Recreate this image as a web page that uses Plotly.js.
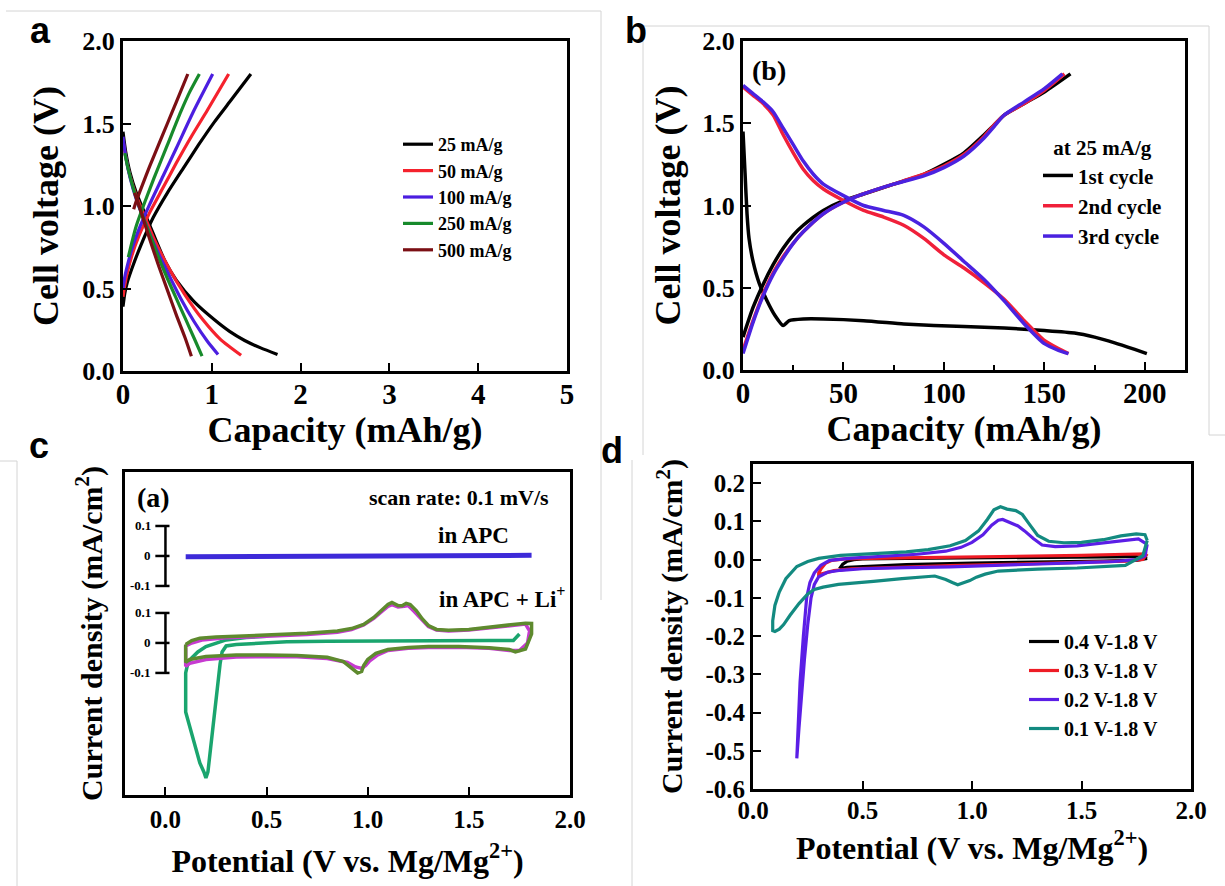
<!DOCTYPE html>
<html><head><meta charset="utf-8">
<script src="https://cdn.plot.ly/plotly-3.0.1.min.js"></script>
<style>html,body{margin:0;padding:0;background:#fff}#chart{width:1225px;height:886px}</style>
</head><body><div id="chart"></div>
<script>
// ---------- Panel a: galvanostatic curves at different rates ----------
const rateLabels = ['25 mA/g', '50 mA/g', '100 mA/g', '250 mA/g', '500 mA/g'];
const aChargeCap = [
  [0, 0.02, 0.05, 0.12, 0.2, 0.34, 0.5, 0.68, 0.85, 1.03, 1.2, 1.44],
  [0, 0.02, 0.05, 0.1, 0.18, 0.3, 0.45, 0.6, 0.78, 0.95, 1.19],
  [0, 0.02, 0.05, 0.1, 0.18, 0.3, 0.45, 0.6, 0.8, 1.01],
  [0.06, 0.1, 0.15, 0.25, 0.35, 0.5, 0.65, 0.75, 0.86],
  [0.12, 0.15, 0.22, 0.3, 0.4, 0.5, 0.6, 0.73]
];
const aChargeV = [
  [0.39, 0.47, 0.54, 0.65, 0.76, 0.93, 1.08, 1.23, 1.37, 1.51, 1.63, 1.8],
  [0.45, 0.52, 0.6, 0.7, 0.82, 0.96, 1.11, 1.26, 1.43, 1.58, 1.8],
  [0.5, 0.57, 0.64, 0.74, 0.86, 1.01, 1.18, 1.35, 1.58, 1.8],
  [0.69, 0.78, 0.88, 1.03, 1.17, 1.37, 1.57, 1.69, 1.8],
  [0.98, 1.03, 1.13, 1.24, 1.37, 1.5, 1.63, 1.8]
];
const aDischargeCap = [
  [0, 0.03, 0.08, 0.15, 0.25, 0.35, 0.47, 0.6, 0.8, 1.03, 1.2, 1.37, 1.55, 1.74],
  [0, 0.03, 0.08, 0.15, 0.25, 0.35, 0.5, 0.7, 0.9, 1.1, 1.33],
  [0, 0.03, 0.08, 0.15, 0.25, 0.35, 0.5, 0.65, 0.8, 0.95, 1.07],
  [0.02, 0.06, 0.12, 0.2, 0.3, 0.4, 0.5, 0.6, 0.7, 0.8, 0.89],
  [0.13, 0.2, 0.3, 0.4, 0.5, 0.6, 0.7, 0.77]
];
const aDischargeV = [
  [1.45, 1.33, 1.2, 1.08, 0.95, 0.82, 0.67, 0.55, 0.42, 0.31, 0.24, 0.185, 0.14, 0.1],
  [1.4, 1.3, 1.18, 1.06, 0.93, 0.8, 0.64, 0.46, 0.31, 0.19, 0.095],
  [1.42, 1.3, 1.17, 1.04, 0.9, 0.77, 0.6, 0.44, 0.3, 0.18, 0.1],
  [1.32, 1.22, 1.1, 0.97, 0.83, 0.69, 0.56, 0.44, 0.32, 0.2, 0.09],
  [1.08, 0.97, 0.8, 0.64, 0.49, 0.34, 0.2, 0.09]
];
const rateColors = ['#000000', '#f5222d', '#4b1ee0', '#178a2b', '#7b0f14'];

// ---------- Panel b: first three cycles at 25 mA/g ----------
const cycleLabels = ['1st cycle', '2nd cycle', '3rd cycle'];
const bChargeCap = [
  [0, 5, 10, 15, 20, 25, 30, 40, 50, 60, 75, 90, 100, 110, 120, 125, 130, 140, 150, 163],
  [0, 5, 10, 15, 20, 25, 30, 40, 50, 60, 75, 90, 100, 110, 120, 125, 130, 140, 150, 160],
  [0, 5, 10, 15, 20, 25, 30, 40, 50, 60, 75, 90, 100, 110, 120, 125, 130, 140, 150, 159]
];
const bChargeV = [
  [0.2, 0.38, 0.52, 0.64, 0.74, 0.82, 0.88, 0.97, 1.03, 1.07, 1.13, 1.19, 1.25, 1.32, 1.43, 1.49, 1.55, 1.62, 1.69, 1.8],
  [0.12, 0.3, 0.46, 0.59, 0.69, 0.77, 0.84, 0.95, 1.02, 1.07, 1.13, 1.19, 1.24, 1.31, 1.42, 1.49, 1.55, 1.62, 1.7, 1.8],
  [0.1, 0.29, 0.45, 0.58, 0.68, 0.77, 0.84, 0.95, 1.02, 1.07, 1.13, 1.18, 1.23, 1.3, 1.41, 1.48, 1.55, 1.63, 1.71, 1.8]
];
const bDischargeCap = [
  [0, 1, 2, 3, 5, 8, 12, 16, 20, 23, 30, 40, 60, 80, 95, 110, 130, 150, 165, 175, 185, 195, 201],
  [0, 5, 10, 15, 20, 25, 30, 35, 40, 50, 60, 70, 80, 90, 100, 110, 120, 130, 140, 150, 157, 162],
  [0, 5, 10, 15, 20, 25, 30, 35, 40, 50, 60, 70, 80, 90, 100, 110, 120, 130, 140, 150, 157, 162]
];
const bDischargeV = [
  [1.45, 1.2, 0.95, 0.8, 0.66, 0.53, 0.42, 0.33, 0.27, 0.3, 0.31, 0.31, 0.3, 0.28, 0.27, 0.265, 0.255, 0.24, 0.225, 0.2, 0.165, 0.125, 0.1],
  [1.72, 1.67, 1.62, 1.55, 1.43, 1.32, 1.22, 1.15, 1.1, 1.03, 0.97, 0.93, 0.88, 0.8, 0.7, 0.62, 0.53, 0.43, 0.3, 0.18, 0.13, 0.1],
  [1.73, 1.68, 1.63, 1.57, 1.47, 1.37, 1.27, 1.19, 1.13, 1.06, 1.0, 0.97, 0.94, 0.87, 0.77, 0.66, 0.55, 0.42, 0.28, 0.16, 0.12, 0.1]
];
const cycleColors = ['#000000', '#f0203a', '#4a22e0'];

// ---------- Panel c: CV in APC and APC + Li+ ----------
const apcOffset = 0.29;   // vertical offset of the APC curve in the stacked plot
const apcPotential = [0.1, 0.4, 0.8, 1.2, 1.6, 1.81];
const apcCurrent = [-0.003, -0.002, -0.001, 0.0, 0.001, 0.002];
const liCycle1Potential = [1.75, 1.72, 1.6, 1.4, 1.2, 1.0, 0.8, 0.6, 0.45, 0.35, 0.3, 0.28, 0.27, 0.26, 0.25, 0.24, 0.23, 0.22, 0.21, 0.2, 0.19, 0.17, 0.15, 0.13, 0.11, 0.1, 0.1, 0.11, 0.13, 0.16, 0.2, 0.25, 0.3, 0.4, 0.5];
const liCycle1Current = [0.03, 0.008, 0.008, 0.008, 0.008, 0.007, 0.006, 0.004, 0.0, -0.005, -0.01, -0.03, -0.07, -0.13, -0.2, -0.27, -0.33, -0.39, -0.43, -0.45, -0.43, -0.4, -0.35, -0.3, -0.25, -0.23, -0.1, -0.07, -0.05, -0.03, -0.012, 0.0, 0.01, 0.018, 0.022];
const liCycle2Potential = [0.10, 0.13, 0.18, 0.3, 0.5, 0.7, 0.85, 0.92, 0.98, 1.03, 1.07, 1.1, 1.12, 1.15, 1.18, 1.2, 1.23, 1.27, 1.3, 1.34, 1.4, 1.5, 1.6, 1.7, 1.78, 1.8, 1.79, 1.75, 1.7, 1.6, 1.45, 1.3, 1.2, 1.1, 1.05, 1.01, 0.99, 0.97, 0.94, 0.9, 0.8, 0.65, 0.5, 0.35, 0.2, 0.12, 0.1, 0.1];
const liCycle2Current = [-0.01, 0.0, 0.01, 0.017, 0.022, 0.028, 0.036, 0.045, 0.06, 0.082, 0.105, 0.122, 0.128, 0.12, 0.122, 0.125, 0.105, 0.075, 0.055, 0.043, 0.04, 0.043, 0.05, 0.058, 0.063, 0.04, 0.0, -0.025, -0.025, -0.018, -0.014, -0.015, -0.018, -0.025, -0.04, -0.06, -0.075, -0.085, -0.08, -0.065, -0.052, -0.046, -0.045, -0.047, -0.055, -0.068, -0.078, -0.01];
const liCycle3Potential = [0.10, 0.13, 0.17, 0.25, 0.35, 0.5, 0.7, 0.85, 0.92, 0.98, 1.03, 1.07, 1.1, 1.12, 1.15, 1.17, 1.19, 1.21, 1.24, 1.27, 1.3, 1.34, 1.4, 1.5, 1.6, 1.7, 1.78, 1.81, 1.81, 1.78, 1.73, 1.7, 1.6, 1.45, 1.3, 1.2, 1.1, 1.04, 1.0, 0.98, 0.97, 0.95, 0.92, 0.88, 0.8, 0.65, 0.5, 0.35, 0.2, 0.12, 0.1, 0.1];
const liCycle3Current = [-0.005, 0.008, 0.016, 0.02, 0.022, 0.026, 0.032, 0.04, 0.048, 0.062, 0.085, 0.11, 0.128, 0.135, 0.125, 0.124, 0.132, 0.128, 0.108, 0.08, 0.058, 0.045, 0.042, 0.045, 0.052, 0.06, 0.066, 0.065, 0.03, -0.02, -0.03, -0.022, -0.016, -0.012, -0.012, -0.015, -0.022, -0.035, -0.055, -0.075, -0.095, -0.1, -0.085, -0.062, -0.048, -0.042, -0.04, -0.04, -0.045, -0.055, -0.065, -0.005];
const scaleBarValues = [-0.1, 0, 0.1];
const scaleBarLabels = ['-0.1', '0', '0.1'];

// ---------- Panel d: CV with different cut-off windows ----------
const windowLabels = ['0.4 V-1.8 V', '0.3 V-1.8 V', '0.2 V-1.8 V', '0.1 V-1.8 V'];
const dPotential = [
  [1.8, 1.75, 1.6, 1.3, 1.0, 0.7, 0.5, 0.43, 0.41, 0.4, 0.41, 0.43, 0.46, 0.5, 0.7, 1.0, 1.3, 1.6, 1.75, 1.8],
  [1.8, 1.78, 1.7, 1.5, 1.2, 0.9, 0.6, 0.45, 0.37, 0.33, 0.31, 0.3, 0.3, 0.31, 0.33, 0.36, 0.42, 0.6, 0.9, 1.2, 1.5, 1.7, 1.78, 1.8],
  [1.8, 1.79, 1.75, 1.65, 1.5, 1.3, 1.1, 0.9, 0.7, 0.5, 0.4, 0.34, 0.3, 0.28, 0.265, 0.25, 0.235, 0.22, 0.21, 0.2, 0.205, 0.215, 0.23, 0.245, 0.26, 0.28, 0.31, 0.35, 0.45, 0.6, 0.75, 0.88, 0.95, 1.0, 1.05, 1.09, 1.12, 1.14, 1.17, 1.21, 1.24, 1.28, 1.32, 1.38, 1.48, 1.6, 1.7, 1.76, 1.8],
  [1.8, 1.78, 1.7, 1.6, 1.48, 1.3, 1.12, 1.06, 1.02, 0.99, 0.96, 0.935, 0.91, 0.88, 0.83, 0.75, 0.68, 0.55, 0.45, 0.39, 0.32, 0.28, 0.25, 0.21, 0.17, 0.14, 0.12, 0.1, 0.09, 0.09, 0.1, 0.12, 0.15, 0.2, 0.25, 0.3, 0.4, 0.55, 0.7, 0.8, 0.9, 0.97, 1.03, 1.07, 1.1, 1.13, 1.16, 1.2, 1.23, 1.26, 1.3, 1.35, 1.42, 1.5, 1.6, 1.68, 1.75, 1.79, 1.8]
];
const dCurrent = [
  [0.003, -0.002, -0.004, -0.006, -0.009, -0.013, -0.017, -0.02, -0.022, -0.02, -0.012, -0.004, 0.0, 0.002, 0.003, 0.004, 0.005, 0.007, 0.008, 0.003],
  [0.015, 0.0, -0.004, -0.008, -0.012, -0.016, -0.02, -0.024, -0.029, -0.034, -0.038, -0.04, -0.035, -0.025, -0.01, -0.002, 0.002, 0.004, 0.006, 0.008, 0.011, 0.014, 0.016, 0.015],
  [0.04, 0.01, 0.0, -0.005, -0.008, -0.012, -0.016, -0.019, -0.021, -0.024, -0.028, -0.033, -0.045, -0.065, -0.1, -0.17, -0.26, -0.36, -0.44, -0.52, -0.44, -0.32, -0.2, -0.1, -0.06, -0.035, -0.015, -0.002, 0.004, 0.009, 0.014, 0.022, 0.032, 0.045, 0.065, 0.09, 0.103, 0.105, 0.098, 0.088, 0.075, 0.055, 0.038, 0.034, 0.036, 0.043, 0.05, 0.054, 0.04],
  [0.05, 0.01, -0.015, -0.018, -0.022, -0.025, -0.03, -0.038, -0.046, -0.055, -0.062, -0.066, -0.06, -0.052, -0.043, -0.046, -0.05, -0.057, -0.062, -0.065, -0.072, -0.078, -0.09, -0.115, -0.145, -0.17, -0.182, -0.188, -0.186, -0.16, -0.12, -0.085, -0.05, -0.018, -0.005, 0.003, 0.011, 0.016, 0.02, 0.026, 0.036, 0.05, 0.075, 0.105, 0.13, 0.138, 0.132, 0.128, 0.118, 0.094, 0.063, 0.048, 0.044, 0.045, 0.052, 0.062, 0.067, 0.065, 0.05]
];
const windowColors = ['#000000', '#ee1c25', '#5b1ee6', '#138a80'];

// tick labels
const aXTicks = [0, 1, 2, 3, 4, 5];
const vTicks = [0, 0.5, 1.0, 1.5, 2.0];
const vTickText = ['0.0', '0.5', '1.0', '1.5', '2.0'];
const bXTicks = [0, 50, 100, 150, 200];
const bXMinorTicks = [25, 75, 125, 175];
const potTicks = [0, 0.5, 1.0, 1.5, 2.0];
const potTickText = ['0.0', '0.5', '1.0', '1.5', '2.0'];
const dYTicks = [-0.6, -0.5, -0.4, -0.3, -0.2, -0.1, 0, 0.1, 0.2];
const dYTickText = ['-0.6', '-0.5', '-0.4', '-0.3', '-0.2', '-0.1', '0.0', '0.1', '0.2'];

// ---------- layout helpers ----------
const W = 1225, H = 886;
const px = v => v / W;
const py = v => 1 - v / H;
const dx = (a, b) => [a / W, b / W];
const dy = (top, bottom) => [1 - bottom / H, 1 - top / H];
const SERIF = 'Liberation Serif, Times New Roman, serif';
const SANS = 'Liberation Sans, Arial, sans-serif';
const f = (size, color) => ({family: SERIF, size: size, color: color || '#000', weight: 'bold'});

const traces = [];
rateLabels.forEach((name, i) => {
  traces.push({
    type: 'scatter', mode: 'lines', name: name, legend: 'legend',
    x: aChargeCap[i].concat([null], aDischargeCap[i]),
    y: aChargeV[i].concat([null], aDischargeV[i]),
    xaxis: 'x', yaxis: 'y', line: {color: rateColors[i], width: 3.2, shape: 'spline', smoothing: 0.6},
    connectgaps: false
  });
});
cycleLabels.forEach((name, i) => {
  traces.push({
    type: 'scatter', mode: 'lines', name: name, legend: 'legend2',
    x: bChargeCap[i].concat([null], bDischargeCap[i]),
    y: bChargeV[i].concat([null], bDischargeV[i]),
    xaxis: 'x2', yaxis: 'y2', line: {color: cycleColors[i], width: 3.5, shape: 'spline', smoothing: 0.6},
    connectgaps: false
  });
});
// panel c
traces.push({type: 'scatter', mode: 'lines', showlegend: false, xaxis: 'x3', yaxis: 'y3',
  x: apcPotential, y: apcCurrent.map(v => v + apcOffset), line: {color: '#3d2ad8', width: 5}});
traces.push({type: 'scatter', mode: 'lines', showlegend: false, xaxis: 'x3', yaxis: 'y3',
  x: liCycle1Potential, y: liCycle1Current, line: {color: '#1aa56e', width: 3.5}});
traces.push({type: 'scatter', mode: 'lines', showlegend: false, xaxis: 'x3', yaxis: 'y3',
  x: liCycle2Potential, y: liCycle2Current, line: {color: '#c63ad0', width: 3.5}});
traces.push({type: 'scatter', mode: 'lines', showlegend: false, xaxis: 'x3', yaxis: 'y3',
  x: liCycle3Potential, y: liCycle3Current, line: {color: '#5e8a2e', width: 3.5}});
// panel d
windowLabels.forEach((name, i) => {
  traces.push({
    type: 'scatter', mode: 'lines', name: name, legend: 'legend3',
    x: dPotential[i], y: dCurrent[i], xaxis: 'x4', yaxis: 'y4',
    line: {color: windowColors[i], width: 3.2}
  });
});

const baseAxis = {
  showline: true, linewidth: 3, linecolor: '#000', mirror: true,
  ticks: 'inside', ticklen: 8, tickwidth: 2, tickcolor: '#000',
  showgrid: false, zeroline: false, automargin: false
};
const ax = o => Object.assign({}, baseAxis, o);

const shapes = [];
// scale bars of panel c (upper: APC, lower: APC + Li+)
[apcOffset, 0].forEach(off => {
  shapes.push({type: 'line', xref: 'x3', yref: 'y3', x0: 0, x1: 0,
    y0: off + scaleBarValues[0], y1: off + scaleBarValues[2], line: {color: '#000', width: 2.5}});
  scaleBarValues.forEach(v => {
    shapes.push({type: 'line', xref: 'x3', yref: 'y3', x0: -0.05, x1: 0.02,
      y0: off + v, y1: off + v, line: {color: '#000', width: 2.5}});
  });
});
// faint frames of the original sub-figure images
const g = {color: '#d4d4d4', width: 1};
[[6, 11, 601, 11], [601, 11, 601, 600], [643, 26, 1209, 26], [643, 26, 643, 455], [1209, 26, 1209, 435],
 [1209, 435, 1225, 435], [0, 461, 17, 461], [17, 461, 17, 886], [632, 460, 632, 886]].forEach(s => {
  shapes.push({type: 'line', xref: 'paper', yref: 'paper', x0: px(s[0]), y0: py(s[1]), x1: px(s[2]), y1: py(s[3]), line: g, layer: 'below'});
});

const annotations = [];
scaleBarLabels.forEach((t, i) => {
  [apcOffset, 0].forEach(off => {
    annotations.push({xref: 'x3', yref: 'y3', x: -0.06, y: off + scaleBarValues[i], text: t,
      showarrow: false, xanchor: 'right', yanchor: 'middle', font: f(13)});
  });
});
const ann = (x, y, text, size, xanchor, family) => annotations.push({
  xref: 'paper', yref: 'paper', x: px(x), y: py(y), text: text, showarrow: false,
  xanchor: xanchor || 'center', yanchor: 'middle',
  font: {family: family || SERIF, size: size, color: '#000', weight: 'bold'}
});
ann(40, 30, 'a', 36, 'center', SANS);
ann(636, 30, 'b', 36, 'center', SANS);
ann(39, 446, 'c', 36, 'center', SANS);
ann(612, 450, 'd', 36, 'center', SANS);
ann(769, 70, '(b)', 28);
ann(153, 498, '(a)', 28);
ann(551, 498, 'scan rate: 0.1 mV/s', 22, 'right');
ann(473, 535, 'in APC', 23);
ann(437, 597, 'in APC + Li<sup>+</sup>', 23, 'left');

const legendBase = {xanchor: 'left', yanchor: 'top', bgcolor: 'rgba(0,0,0,0)', borderwidth: 0,
  tracegroupgap: 0, itemwidth: 30};

const layout = {
  width: W, height: H, margin: {l: 0, r: 0, t: 0, b: 0},
  paper_bgcolor: '#fff', plot_bgcolor: 'rgba(0,0,0,0)',
  showlegend: true,
  xaxis: ax({domain: dx(123, 567), anchor: 'y', range: [0, 5], tickvals: aXTicks, ticklabelstandoff: -5,
    tickfont: f(29), title: {text: 'Capacity (mAh/g)', font: f(36), standoff: 0}}),
  yaxis: ax({domain: dy(41, 371), anchor: 'x', range: [0, 2], tickvals: vTicks, ticktext: vTickText,
    tickfont: f(26), title: {text: 'Cell voltage (V)', font: f(36), standoff: 13}}),
  xaxis2: ax({domain: dx(743, 1185), anchor: 'y2', range: [0, 220], tickvals: bXTicks, ticklabelstandoff: -5,
    minor: {tickvals: bXMinorTicks, ticks: 'inside', ticklen: 5, tickwidth: 2, tickcolor: '#000'},
    tickfont: f(29), title: {text: 'Capacity (mAh/g)', font: f(36), standoff: 0}}),
  yaxis2: ax({domain: dy(41, 370), anchor: 'x2', range: [0, 2], tickvals: vTicks, ticktext: vTickText,
    tickfont: f(26), title: {text: 'Cell voltage (V)', font: f(36), standoff: 11}}),
  xaxis3: ax({domain: dx(125, 570), anchor: 'y3', range: [-0.2, 2.0], tickvals: potTicks, ticktext: potTickText,
    tickfont: f(25), title: {text: 'Potential (V vs. Mg/Mg<sup>2+</sup>)', font: f(32), standoff: 18}}),
  yaxis3: ax({domain: dy(472, 795), anchor: 'x3', range: [-0.507, 0.57], ticks: '', showticklabels: false,
    title: {text: 'Current density (mA/cm<sup>2</sup>)', font: f(30), standoff: 11}}),
  xaxis4: ax({domain: dx(753, 1191), anchor: 'y4', range: [0, 2], tickvals: potTicks, ticktext: potTickText,
    tickfont: f(25), ticklabelstandoff: -3, title: {text: 'Potential (V vs. Mg/Mg<sup>2+</sup>)', font: f(32), standoff: 14}}),
  yaxis4: ax({domain: dy(464, 789), anchor: 'x4', range: [-0.6, 0.25], tickvals: dYTicks, ticktext: dYTickText,
    tickfont: f(25), title: {text: 'Current density (mA/cm<sup>2</sup>)', font: f(30), standoff: 14}}),
  legend: Object.assign({}, legendBase, {x: px(398), y: py(126), font: f(18)}),
  legend2: Object.assign({}, legendBase, {x: px(1038), y: py(128), font: f(21),
    title: {text: 'at 25 mA/g', side: 'top center', font: f(21)}}),
  legend3: Object.assign({}, legendBase, {x: px(1024), y: py(622), font: f(20)}),
  shapes: shapes,
  annotations: annotations
};

Plotly.newPlot('chart', traces, layout, {displayModeBar: false, staticPlot: true});
</script>
</body></html>
